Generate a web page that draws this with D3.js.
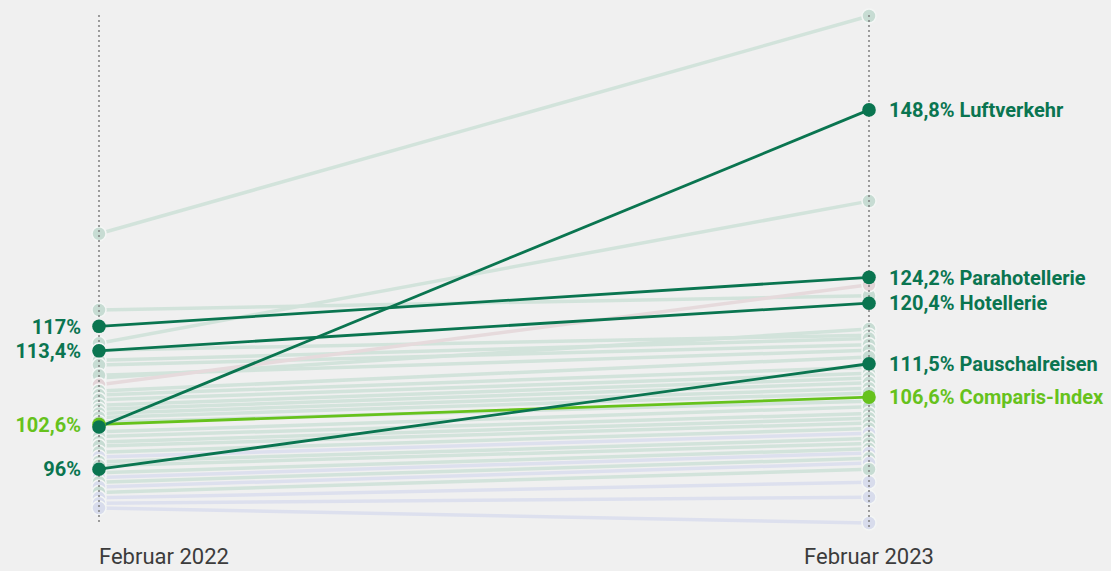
<!DOCTYPE html>
<html>
<head>
<meta charset="utf-8">
<script src="https://cdn.jsdelivr.net/npm/d3@7"></script>
<style>
  body { margin: 0; background: #f0f0f0; font-family: Roboto, "Noto Sans", sans-serif; }
  svg { display: block; }
</style>
</head>
<body>
<svg width="1111" height="571"></svg>
<script>
// Zeitpunkte
var periods = ["Februar 2022", "Februar 2023"];

// hervorgehobene Reihen
var names = ["Luftverkehr", "Parahotellerie", "Hotellerie", "Pauschalreisen", "Comparis-Index"];
var val2022 = [102.2, 117, 113.4, 96, 102.6];
var val2023 = [148.8, 124.2, 120.4, 111.5, 106.6];
var showLeft = [false, true, true, true, true];
var isIndex = [false, false, false, false, true];

// übrige Teilindizes (im Hintergrund)
var bg2022 = [130.6, 114.5, 119.4, 109.4, 113.5, 112.0, 111.3, 109.8, 108.4, 107.5, 106.9, 106.2, 105.4,
              104.8, 104.2, 103.6, 102.9, 101.5, 100.8, 100.0, 99.4, 98.5, 97.8, 97.1, 96.5, 95.5,
              94.8, 94.1, 93.4, 92.6, 91.8, 91.0, 90.3];
var bg2023 = [162.6, 135.4, 121.5, 116.6, 115.7, 115.2, 114.3, 113.5, 123.1, 112.5, 111.0, 110.1, 109.4,
              108.7, 107.9, 107.2, 106.0, 105.2, 104.2, 103.5, 102.8, 102.0, 101.3, 100.5, 99.8, 99.0,
              98.4, 97.6, 96.9, 96.0, 94.1, 91.9, 88.1];
var bgGroup = ["w", "w", "w", "w", "w", "w", "w", "w", "r", "w", "w", "w", "w",
               "w", "w", "w", "w", "w", "w", "w", "w", "w", "b", "w", "w", "w",
               "b", "w", "b", "w", "b", "b", "b"];

var svg = d3.select("svg");

var x = d3.scalePoint().domain(periods).range([99, 869]);
var allVals = bg2022.concat(bg2023, val2022, val2023);
var y = d3.scaleLinear().domain(d3.extent(allVals)).range([523, 16]);

var de = d3.formatLocale({ decimal: ",", thousands: "'", grouping: [3], currency: ["", " CHF"] });
var fmt = de.format(".1~f");

var bgColor = d3.scaleOrdinal().domain(["w", "b", "r"]).range(["#d2e3db", "#dde0ee", "#e6dadc"]);
var dotColor = d3.scaleOrdinal().domain(["w", "b", "r"]).range(["#c7dcd3", "#d8dcec", "#e2d4d7"]);

var bg = bg2022.map(function(d, i) { return { a: d, b: bg2023[i], g: bgGroup[i] }; });
var hi = names.map(function(n, i) {
  return { name: n, a: val2022[i], b: val2023[i], left: showLeft[i], idx: isIndex[i] };
});
var darkGreen = "#0a7550", lime = "#66c21c";

// Hintergrundlinien
svg.append("g").selectAll("line").data(bg).enter().append("line")
  .attr("x1", x(periods[0])).attr("x2", x(periods[1]))
  .attr("y1", function(d) { return y(d.a); })
  .attr("y2", function(d) { return y(d.b); })
  .attr("stroke", function(d) { return bgColor(d.g); })
  .attr("stroke-width", 3.5);

var bgDots = svg.append("g");
bg.forEach(function(d) {
  [[periods[0], d.a], [periods[1], d.b]].forEach(function(p) {
    bgDots.append("circle")
      .attr("cx", x(p[0])).attr("cy", y(p[1])).attr("r", 7)
      .attr("fill", dotColor(d.g))
      .attr("stroke", "#f4f6f5").attr("stroke-width", 1.5);
  });
});

// gepunktete Achsen
svg.append("g").selectAll("line").data(periods).enter().append("line")
  .attr("x1", function(d) { return x(d); }).attr("x2", function(d) { return x(d); })
  .attr("y1", 15).attr("y2", function(d, i) { return i == 0 ? 525 : 530; })
  .attr("stroke", "#7f7f7f").attr("stroke-width", 1.5)
  .attr("stroke-dasharray", "2,3");

// hervorgehobene Linien (Index zuunterst)
var order = hi.slice().sort(function(a, b) { return (a.idx ? 0 : 1) - (b.idx ? 0 : 1); });
svg.append("g").selectAll("line").data(order).enter().append("line")
  .attr("x1", x(periods[0])).attr("x2", x(periods[1]))
  .attr("y1", function(d) { return y(d.a); })
  .attr("y2", function(d) { return y(d.b); })
  .attr("stroke", function(d) { return d.idx ? lime : darkGreen; })
  .attr("stroke-width", 2.8);

var hiDots = svg.append("g");
order.forEach(function(d) {
  [[periods[0], d.a], [periods[1], d.b]].forEach(function(p) {
    hiDots.append("circle")
      .attr("cx", x(p[0])).attr("cy", y(p[1])).attr("r", 6.8)
      .attr("fill", d.idx ? lime : darkGreen);
  });
});

// Beschriftungen
svg.append("g").selectAll("text").data(hi.filter(function(d) { return d.left; })).enter().append("text")
  .attr("x", x(periods[0]) - 18)
  .attr("y", function(d) { return y(d.a); })
  .attr("dy", "0.36em")
  .attr("text-anchor", "end")
  .style("font-size", "20px").style("font-weight", "bold")
  .style("fill", function(d) { return d.idx ? lime : darkGreen; })
  .text(function(d) { return fmt(d.a) + "%"; });

svg.append("g").selectAll("text").data(hi).enter().append("text")
  .attr("x", x(periods[1]) + 20)
  .attr("y", function(d) { return y(d.b); })
  .attr("dy", "0.36em")
  .style("font-size", "20px").style("font-weight", "bold")
  .style("fill", function(d) { return d.idx ? lime : darkGreen; })
  .text(function(d) { return fmt(d.b) + "% " + d.name; });

svg.append("g").selectAll("text").data(periods).enter().append("text")
  .attr("x", function(d) { return x(d); })
  .attr("y", 564)
  .attr("text-anchor", function(d, i) { return i == 0 ? "start" : "middle"; })
  .style("font-size", "22px")
  .style("fill", "#3c3c3c")
  .text(function(d) { return d; });
</script>
</body>
</html>
